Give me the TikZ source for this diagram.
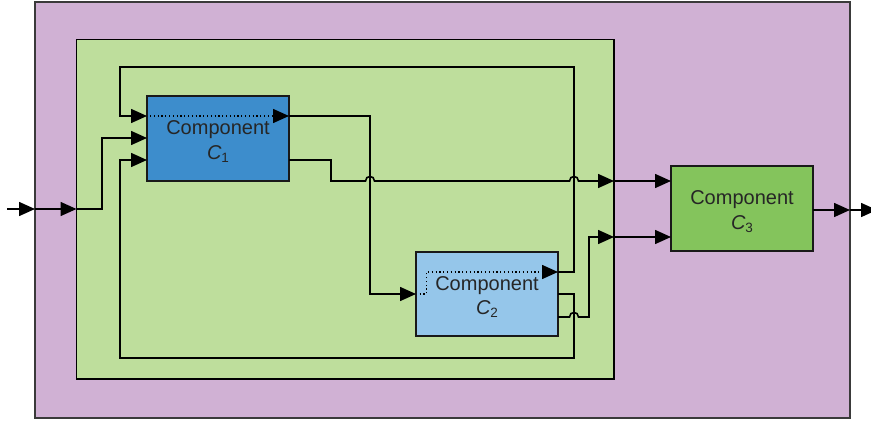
\documentclass[tikz,border=0pt]{standalone}
\usepackage{fontspec}
\setmainfont{Liberation Sans}
\usetikzlibrary{arrows.meta}

\definecolor{sysfill}{HTML}{D0B1D4}
\definecolor{subfill}{HTML}{BEDE9C}
\definecolor{cone}{HTML}{3D8DCC}
\definecolor{ctwo}{HTML}{95C6EA}
\definecolor{cthree}{HTML}{84C45C}
\definecolor{edgegray}{HTML}{3A3A3A}
\definecolor{txt}{HTML}{262626}

\newcommand{\compname}[1]{Component\\[0pt]{\itshape C}\raisebox{-3pt}{\fontsize{13.5}{13.5}\selectfont #1}}

\begin{document}
\begin{tikzpicture}[x=1pt,y=-1pt,
  frame/.style={draw, line width=1.5pt, inner sep=0pt, outer sep=0pt},
  comp/.style={draw=black!90, line width=1.6pt, inner sep=0pt, outer sep=0pt,
    minimum width=142pt, minimum height=85pt, align=center, text=txt,
    font=\fontsize{20}{24.3}\selectfont},
  compname/.style={text=txt, align=center, inner sep=0pt,
    font=\fontsize{20}{24.3}\selectfont},
  wire/.style={line width=1.6pt, black},
  arr/.style={wire, -{Triangle[length=16pt,width=14pt]}},
  dotline/.style={line width=1.5pt, black, dash pattern=on 1.2pt off 2.6pt,
    -{Triangle[length=16pt,width=14pt]}}
]
\useasboundingbox (0,0) rectangle (871,423);

% enclosing system and subsystem
\node[frame, draw=edgegray, line width=2pt, fill=sysfill, minimum width=815pt, minimum height=416.5pt]
  (sys) at (442.5,209.75) {};
\node[frame, draw=black, fill=subfill, minimum width=537.5pt, minimum height=339.5pt]
  (sub) at (345.25,209.25) {};

% components
\node[comp, fill=cone]   (c1) at (218,138.5) {};
\node[comp, fill=ctwo, minimum height=84pt] (c2) at (487,294) {};
\node[comp, fill=cthree] (c3) at (742,208.5) {};
\node[compname] (n1) at ([yshift=-3pt]c1.center) {\compname{1}};
\node[compname] (n2) at ([yshift=-3pt]c2.center) {\compname{2}};
\node[compname] (n3) at ([yshift=-3pt]c3.center) {\compname{3}};

% ports
\coordinate (src)  at (7,209);
\coordinate (sysin) at (sys.west |- src);
\coordinate (subin) at (sub.west |- src);
\coordinate (c1a) at (c1.west |- 0,116);
\coordinate (c1b) at (c1.west |- 0,138);
\coordinate (c1c) at (c1.west |- 0,160);
\coordinate (c1o) at (c1.east |- 0,116);
\coordinate (c1p) at (c1.east |- 0,160);
\coordinate (c2a) at (c2.west |- 0,294);
\coordinate (c2o) at (c2.east |- 0,272);
\coordinate (c2p) at (c2.east |- 0,294);
\coordinate (c2q) at (c2.east |- 0,317);
\coordinate (suboa) at (sub.east |- 0,181);
\coordinate (subob) at (sub.east |- 0,237);
\coordinate (c3a) at (c3.west |- suboa);
\coordinate (c3b) at (c3.west |- subob);
\coordinate (c3o) at (c3.east |- 0,210);
\coordinate (sysout) at (sys.east |- c3o);
\coordinate (sink) at (877,210);

% system input
\draw[arr] (src) -- (sysin);
\draw[arr] (sysin) -- (subin);
\draw[arr] (subin) -- (102,209) -- (102,138) -- (c1b);

% feedback loops from C2 back to C1
\draw[arr] (c2o) -- (574,272) -- (574,67) -- (120,67) -- (120,116) -- (c1a);
\draw[arr] (c2p) -- (574,294) -- (574,358) -- (120,358) -- (120,160) -- (c1c);

% C1 to C2
\draw[arr] (c1o) -- (370,116) -- (370,294) -- (c2a);

% C1 and C2 to the subsystem boundary, hopping over crossings
\draw[arr] (c1p) -- (331,160) -- (331,181)
  -- (365.5,181) .. controls (365.5,175) and (374.5,175) .. (374.5,181)
  -- (569.5,181) .. controls (569.5,175) and (578.5,175) .. (578.5,181)
  -- (suboa);
\draw[arr] (c2q) -- (569.5,317) .. controls (569.5,311) and (578.5,311) .. (578.5,317)
  -- (589,317) -- (589,237) -- (subob);

% subsystem outputs into C3
\draw[arr] (suboa) -- (c3a);
\draw[arr] (subob) -- (c3b);

% system output
\draw[arr] (c3o) -- (sysout);
\draw[arr] (sysout) -- (sink);

% internal paths through C1 and C2
\draw[dotline] (150,116) -- (c1o);
\draw[dotline] (419.5,294) -- (426.5,294) -- (426.5,272) -- (c2o);
\end{tikzpicture}
\end{document}
